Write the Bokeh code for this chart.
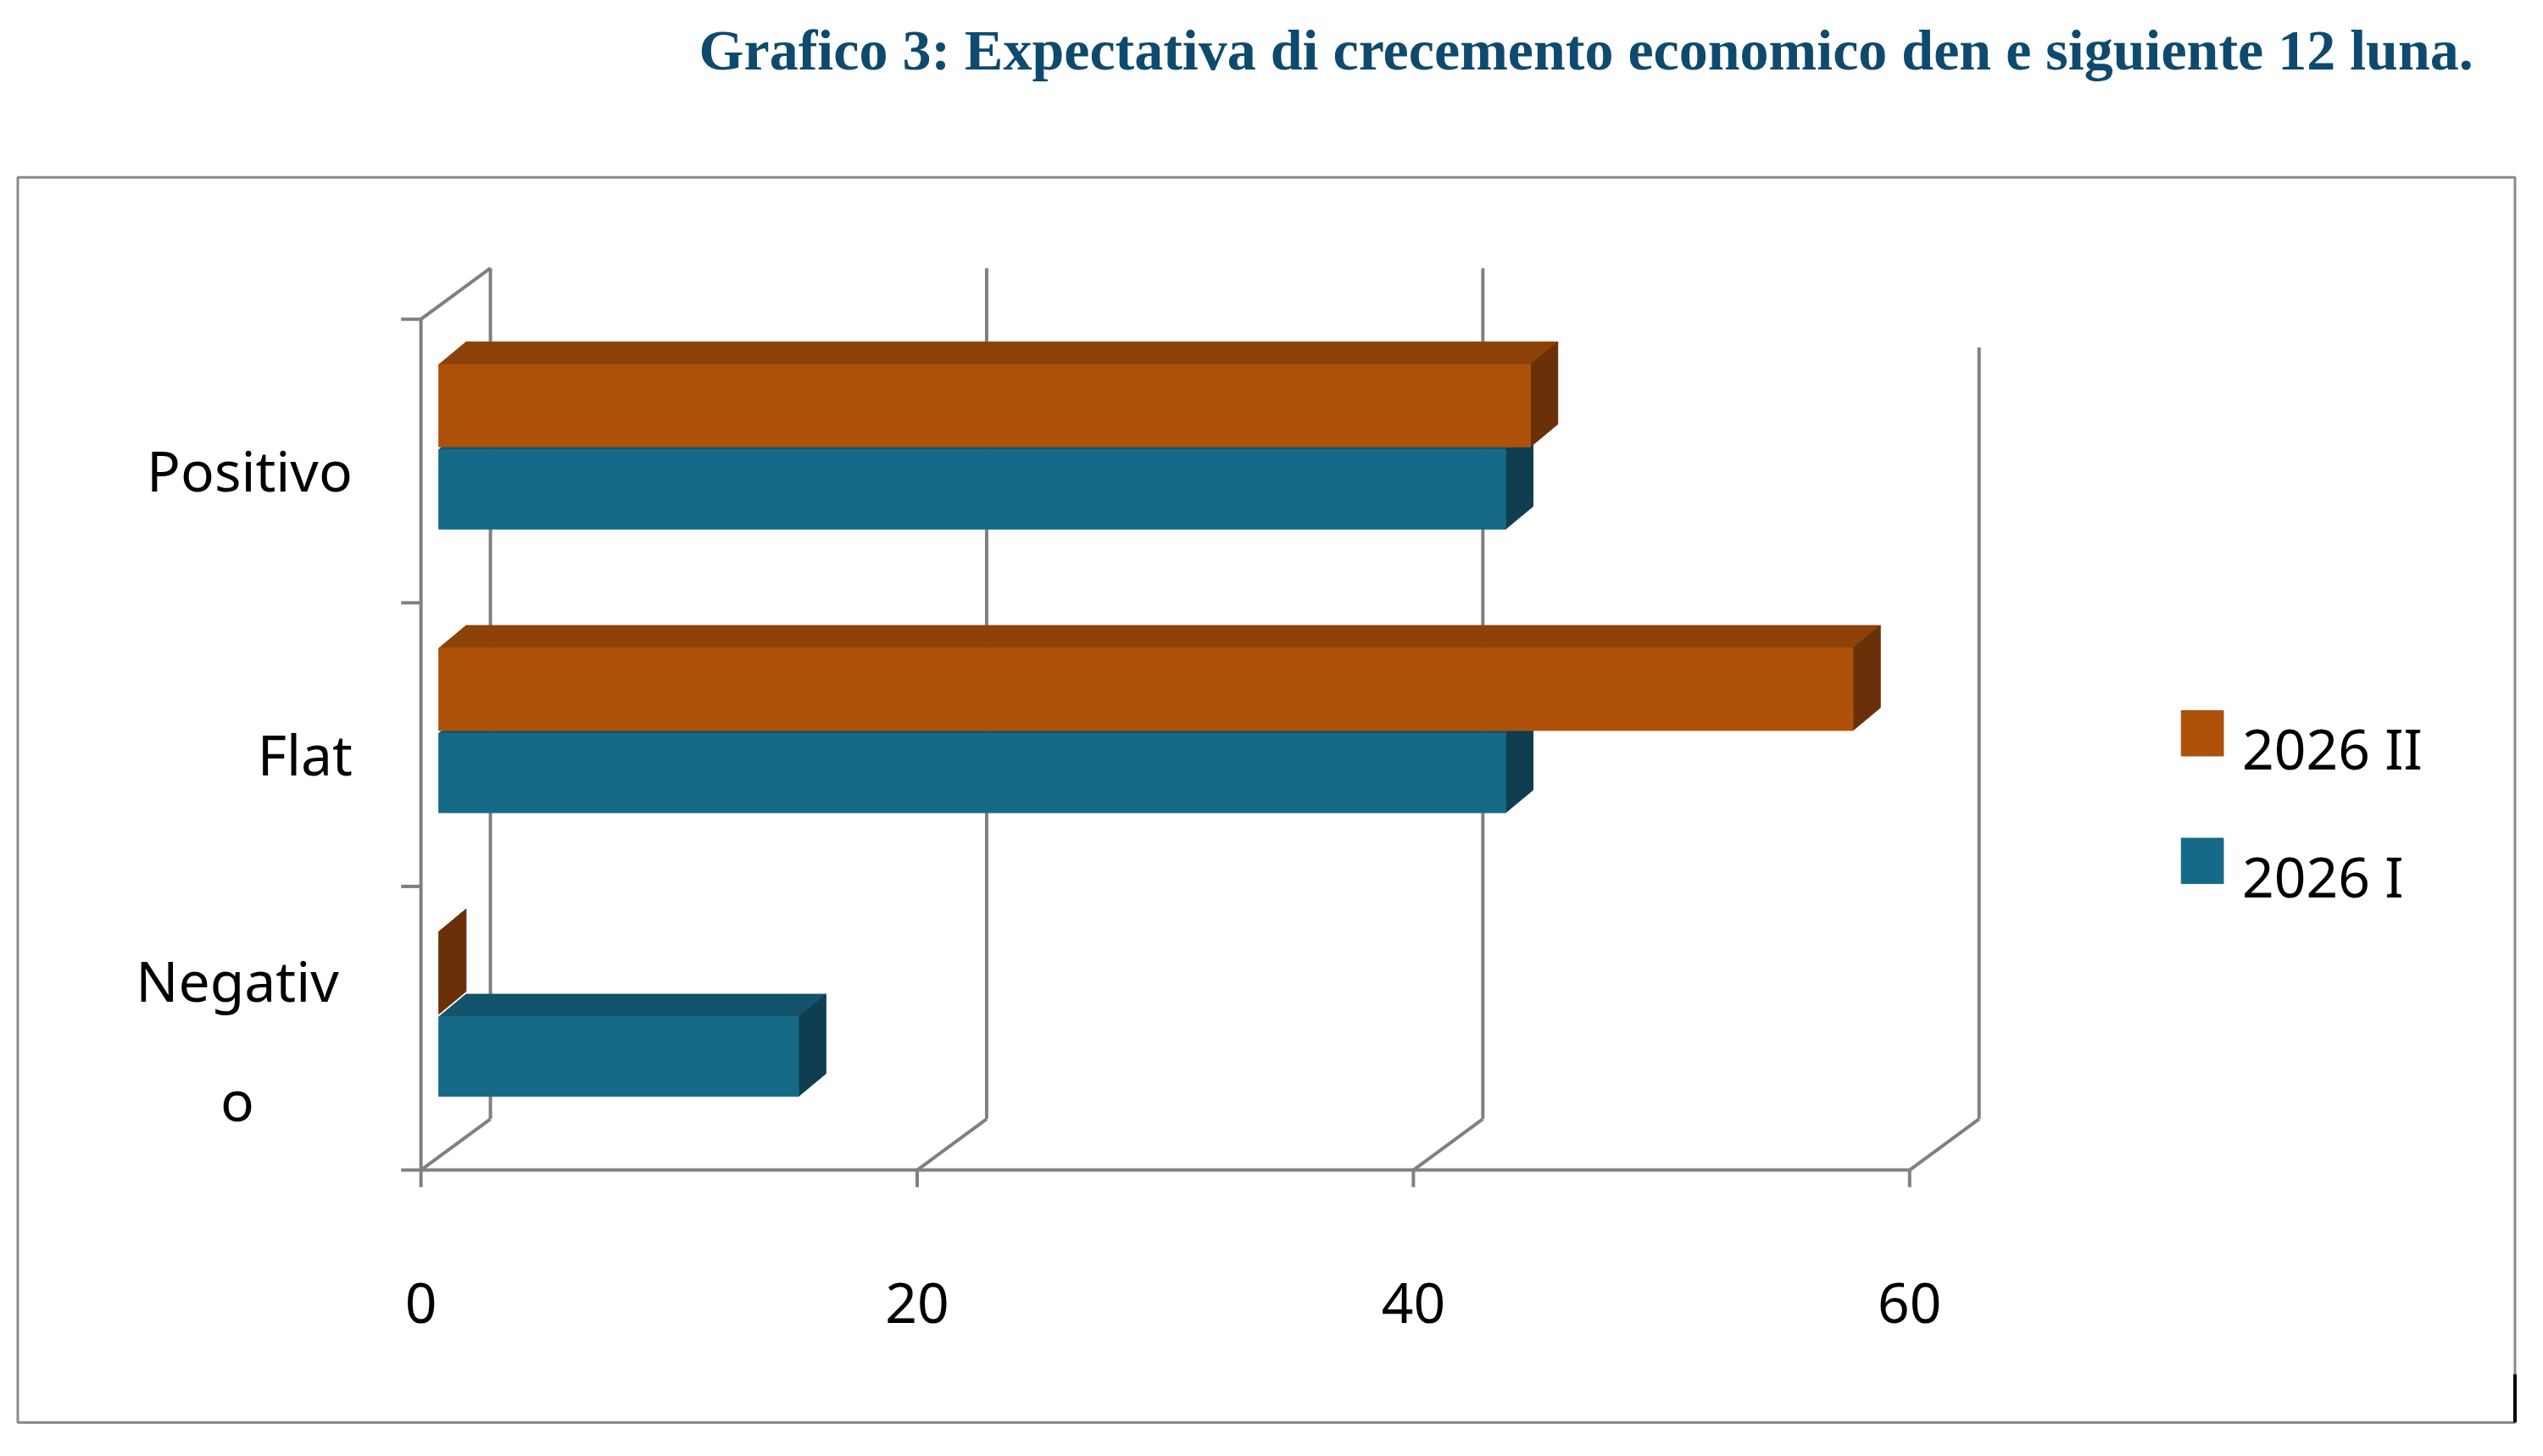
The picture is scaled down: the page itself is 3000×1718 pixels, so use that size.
from bokeh.plotting import figure
from bokeh.models import Range1d
from bokeh.embed import file_html
from bokeh.resources import INLINE
from bokeh.core.properties import value

categories = ["Negativo", "Flat", "Positivo"]
series_I = [14.5, 43, 43]      # 2026 I
series_II = [0, 57, 44]        # 2026 II
x_ticks = [0, 20, 40, 60]
series_names = ["2026 II", "2026 I"]
title = "Grafico 3: Expectativa di crecemento  economico den e siguiente 12 luna."

ORANGE, ORANGE_D, ORANGE_T = "#AE510A", "#6A3007", "#8C4208"
BLUE, BLUE_D, BLUE_T = "#166A87", "#0E3E50", "#12546C"
GRID = "#808080"

p = figure(width=2984, height=1700, output_backend="svg", toolbar_location=None,
           x_range=Range1d(-16.95, 85.0), y_range=Range1d(-0.956, 4.124),
           min_border=0)
p.axis.visible = False
p.grid.visible = False
p.outline_line_color = None

# outer box
p.quad(left=[-16.25], right=[84.4], bottom=[-0.89], top=[3.5], fill_color=None,
       line_color="#8a8a8a", line_width=3)
p.segment(x0=[84.4], y0=[-0.72], x1=[84.4], y1=[-0.89], line_color="black", line_width=4)

DX, DY = 2.8, 0.18
xmax = x_ticks[-1]
ncat = len(categories)
# back walls
p.segment(x0=[t + DX for t in x_ticks[:-1]], y0=[DY] * 3, x1=[t + DX for t in x_ticks[:-1]],
          y1=[ncat + DY] * 3, line_color=GRID, line_width=4)
p.segment(x0=[xmax + DX], y0=[DY], x1=[xmax + DX], y1=[ncat - 0.1], line_color=GRID, line_width=4)
# diagonals
p.segment(x0=x_ticks, y0=[0] * 4, x1=[t + DX for t in x_ticks], y1=[DY] * 4, line_color=GRID, line_width=4)
p.segment(x0=[0], y0=[ncat], x1=[DX], y1=[ncat + DY], line_color=GRID, line_width=4)
# front axes
p.segment(x0=[0], y0=[0], x1=[xmax], y1=[0], line_color=GRID, line_width=4)
p.segment(x0=[0], y0=[0], x1=[0], y1=[ncat], line_color=GRID, line_width=4)
p.segment(x0=x_ticks, y0=[0] * 4, x1=x_ticks, y1=[-0.06] * 4, line_color=GRID, line_width=4)
p.segment(x0=[0] * (ncat + 1), y0=list(range(ncat + 1)), x1=[-0.8] * (ncat + 1),
          y1=list(range(ncat + 1)), line_color=GRID, line_width=4)

# 3D bars
X0, BDX, BDY = 0.72, 1.1, 0.08
def bar(c, v, y0, y1, face, side, top):
    x1 = X0 + v
    p.patch([X0, X0 + BDX, x1 + BDX, x1], [y1, y1 + BDY, y1 + BDY, y1], fill_color=top,
            line_color=top, line_width=1)
    p.patch([x1, x1 + BDX, x1 + BDX, x1], [y0, y0 + BDY, y1 + BDY, y1], fill_color=side,
            line_color=side, line_width=1)
    if v > 0:
        p.quad(left=[X0], right=[x1], bottom=[y0], top=[y1], fill_color=face, line_color=face)

for c in range(ncat):
    bar(c, series_I[c], c + 0.26, c + 0.54, BLUE, BLUE_D, BLUE_T)
    bar(c, series_II[c], c + 0.55, c + 0.84, ORANGE, ORANGE_D, ORANGE_T)

FONT = value("Noto Sans")
p.text(x=x_ticks, y=[-0.47] * 4, text=[str(t) for t in x_ticks], text_align="center",
       text_baseline="middle", text_font=FONT, text_font_size="66px", text_color="black")
p.text(x=[-2.76, -2.76], y=[2.47, 1.47], text=categories[2:0:-1], text_align="right",
       text_baseline="middle", text_font=FONT, text_font_size="66px", text_color="black")
p.text(x=[-7.4, -7.4], y=[0.67, 0.25], text=[categories[0][:-1], categories[0][-1]],
       text_align="center", text_baseline="middle", text_font=FONT, text_font_size="66px",
       text_color="black")

# legend
p.rect(x=[71.8, 71.8], y=[1.54, 1.09], width=1.7, height=0.16,
       fill_color=[ORANGE, BLUE], line_color=[ORANGE, BLUE])
p.text(x=[73.4, 73.4], y=[1.49, 1.04], text=series_names, text_align="left",
       text_baseline="middle", text_font=FONT, text_font_size="66px", text_color="black")

p.text(x=[83.3], y=[3.95], text=[title], text_align="right", text_baseline="middle",
       text_font=value("Liberation Serif"), text_font_style="bold", text_font_size="68px",
       text_color="#0E4A6E")

open("out.html", "w").write(file_html(p, INLINE))
